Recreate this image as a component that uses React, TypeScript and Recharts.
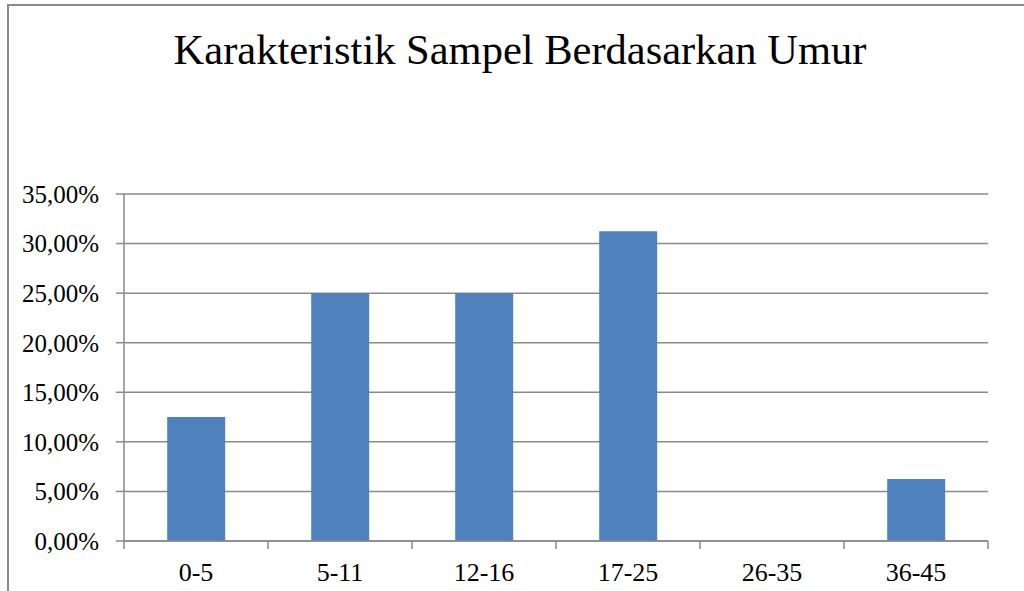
// Karakteristik Sampel Berdasarkan Umur — bar chart of sample share per age group

import { BarChart, Bar, XAxis, YAxis, CartesianGrid } from 'recharts';

const ageGroups = ['0-5', '5-11', '12-16', '17-25', '26-35', '36-45'];
const sampleShare = [12.5, 25, 25, 31.25, 0, 6.25];
const yTicks = [0, 5, 10, 15, 20, 25, 30, 35];

const data = ageGroups.map((group, i) => ({ group, value: sampleShare[i] }));

const W = 1024;
const H = 591;
const PLOT_LEFT = 124;
const PLOT_RIGHT = 36;
const PLOT_TOP = 194;
const X_AXIS_H = 50;
const HALF_BAND = (W - PLOT_LEFT - PLOT_RIGHT) / ageGroups.length / 2;

const FONT = "'Liberation Serif', 'Times New Roman', serif";
const GRID = '#8a8a8a';

const fmtPct = (v: number) => `${v.toFixed(2).replace('.', ',')}%`;

// category ticks sit between bars, like the spreadsheet original
function AgeTick(props: any) {
  const { x, y, payload, index } = props;
  const last = index === ageGroups.length - 1;
  return (
    <g>
      <line x1={x - HALF_BAND} y1={y} x2={x - HALF_BAND} y2={y + 8} stroke={GRID} strokeWidth={1.5} />
      {last && <line x1={x + HALF_BAND} y1={y} x2={x + HALF_BAND} y2={y + 8} stroke={GRID} strokeWidth={1.5} />}
      <text x={x} y={y + 22} dy="0.71em" textAnchor="middle" fill="#000" fontSize={26} style={{ fontFamily: FONT }}>
        {payload.value}
      </text>
    </g>
  );
}

export default function App() {
  return (
    <div style={{ position: 'absolute', left: 0, top: 0, width: W, height: H, overflow: 'hidden', background: '#fff' }}>
      <div
        style={{
          position: 'absolute',
          left: 7,
          top: 4,
          width: 1200,
          height: 800,
          borderLeft: `2px solid ${GRID}`,
          borderTop: `2px solid ${GRID}`,
        }}
      />
      <div
        style={{
          position: 'absolute',
          left: 0,
          top: 29,
          width: 1040,
          textAlign: 'center',
          fontFamily: FONT,
          fontSize: 42.5,
          color: '#000',
          lineHeight: 1,
          whiteSpace: 'nowrap',
        }}
      >
        Karakteristik Sampel Berdasarkan Umur
      </div>
      <div style={{ position: 'absolute', left: 0, top: 0, fontFamily: FONT }}>
        <BarChart
          width={W}
          height={H}
          data={data}
          margin={{ top: PLOT_TOP, right: PLOT_RIGHT, bottom: 0, left: 0 }}
          barCategoryGap="30%"
        >
          <CartesianGrid vertical={false} stroke={GRID} strokeWidth={1.5} />
          <XAxis
            dataKey="group"
            height={X_AXIS_H}
            axisLine={{ stroke: GRID, strokeWidth: 1.5 }}
            tickLine={false}
            tickSize={0}
            tickMargin={0}
            interval={0}
            tick={<AgeTick />}
          />
          <YAxis
            width={PLOT_LEFT}
            domain={[0, 35]}
            ticks={yTicks}
            interval={0}
            tickFormatter={fmtPct}
            axisLine={{ stroke: GRID, strokeWidth: 1.5 }}
            tickLine={{ stroke: GRID, strokeWidth: 1.5 }}
            tickSize={8}
            tickMargin={17}
            tick={{ fill: '#000', fontSize: 25, style: { fontFamily: FONT } }}
          />
          <Bar dataKey="value" fill="#4f81bd" isAnimationActive={false} />
        </BarChart>
      </div>
    </div>
  );
}
